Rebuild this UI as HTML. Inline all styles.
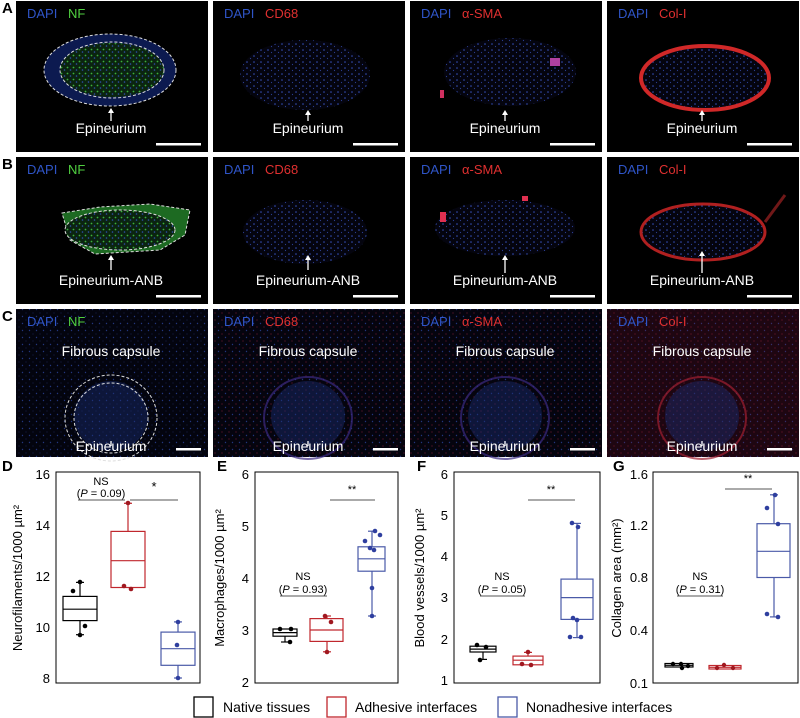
<!DOCTYPE html>
<html><head><meta charset="utf-8"><style>
html,body{margin:0;padding:0;background:#fff;width:800px;height:718px;overflow:hidden}
svg{display:block}
text{font-family:"Liberation Sans",Arial,sans-serif}
</style></head><body>
<svg width="800" height="718" viewBox="0 0 800 718" xmlns="http://www.w3.org/2000/svg">
<defs>
<pattern id="dots" width="7" height="6" patternUnits="userSpaceOnUse">
<rect width="7" height="6" fill="#04040e"/>
<circle cx="2" cy="2" r="0.8" fill="#3550b8"/><circle cx="5.5" cy="4.5" r="0.6" fill="#2a3d90"/>
</pattern>
<pattern id="dotsC" width="7" height="7" patternUnits="userSpaceOnUse">
<rect width="7" height="7" fill="#03040e"/>
<circle cx="1.5" cy="1.5" r="0.7" fill="#22367e"/><circle cx="5" cy="5" r="0.5" fill="#1a2a66"/>
</pattern>
<pattern id="dotsR" width="7" height="7" patternUnits="userSpaceOnUse">
<rect width="7" height="7" fill="#05040e"/>
<circle cx="1.5" cy="1.5" r="0.7" fill="#22367e"/><circle cx="5" cy="5" r="0.6" fill="#6a1830"/>
</pattern>
<pattern id="dotsG" width="6" height="6" patternUnits="userSpaceOnUse">
<rect width="6" height="6" fill="#0b2410"/>
<circle cx="1.5" cy="1.5" r="0.9" fill="#3bb03b"/><circle cx="4.5" cy="4" r="0.8" fill="#2f4fb0"/>
</pattern>
</defs>

<g font-weight="bold" font-size="15" fill="#000">
<text x="2" y="13">A</text><text x="2" y="169">B</text><text x="2" y="321">C</text>
<text x="2" y="471">D</text><text x="217" y="471">E</text><text x="417" y="471">F</text><text x="613" y="471">G</text>
</g>

<!-- ROW A -->
<rect x="16" y="1" width="192" height="151" fill="#000"/>
<rect x="213" y="1" width="192" height="151" fill="#000"/>
<rect x="410" y="1" width="192" height="151" fill="#000"/>
<rect x="607" y="1" width="192" height="151" fill="#000"/>
<ellipse cx="110" cy="70" rx="66" ry="36" fill="#0c1a50"/>
<ellipse cx="112" cy="70" rx="52" ry="27" fill="url(#dotsG)"/>
<ellipse cx="110" cy="70" rx="66" ry="36" fill="none" stroke="#ddd" stroke-dasharray="3,2" stroke-width="1"/>
<ellipse cx="112" cy="70" rx="52" ry="28" fill="none" stroke="#ddd" stroke-dasharray="3,2" stroke-width="1"/>
<ellipse cx="305" cy="75" rx="65" ry="35" fill="url(#dots)"/>
<ellipse cx="510" cy="72" rx="66" ry="34" fill="url(#dots)"/>
<rect x="550" y="58" width="10" height="8" fill="#b040a0"/><rect x="440" y="90" width="4" height="8" fill="#d03060"/>
<ellipse cx="705" cy="78" rx="64" ry="32" fill="url(#dots)" stroke="#d02828" stroke-width="4"/>

<!-- ROW B -->
<rect x="16" y="157" width="192" height="147" fill="#000"/>
<rect x="213" y="157" width="192" height="147" fill="#000"/>
<rect x="410" y="157" width="192" height="147" fill="#000"/>
<rect x="607" y="157" width="192" height="147" fill="#000"/>
<path d="M62,213 L100,207 L150,204 L190,210 L185,235 L160,250 L95,254 L70,240 Z" fill="#1d6a22" stroke="#ddd" stroke-dasharray="3,2"/>
<ellipse cx="120" cy="230" rx="55" ry="20" fill="url(#dotsG)" stroke="#ddd" stroke-dasharray="3,2"/>
<ellipse cx="305" cy="232" rx="62" ry="32" fill="url(#dots)"/>
<ellipse cx="505" cy="228" rx="70" ry="28" fill="url(#dots)"/>
<rect x="440" y="212" width="6" height="10" fill="#e03050"/><rect x="522" y="196" width="6" height="5" fill="#e03050"/>
<ellipse cx="703" cy="232" rx="62" ry="28" fill="url(#dots)" stroke="#b02020" stroke-width="3"/>
<path d="M765,222 L785,195" stroke="#701818" stroke-width="3"/>

<!-- ROW C -->
<rect x="16" y="309" width="192" height="148" fill="url(#dotsC)"/>
<rect x="213" y="309" width="192" height="148" fill="url(#dotsR)"/>
<rect x="410" y="309" width="192" height="148" fill="url(#dotsR)"/>
<rect x="607" y="309" width="192" height="148" fill="url(#dotsR)"/>
<rect x="607" y="309" width="192" height="148" fill="#801020" opacity="0.2"/>
<g fill="#1a2c70" opacity="0.45">
<ellipse cx="111" cy="416" rx="37" ry="35"/><ellipse cx="308" cy="416" rx="37" ry="35"/><ellipse cx="505" cy="416" rx="37" ry="35"/><ellipse cx="702" cy="416" rx="37" ry="35"/>
</g>
<g fill="none" stroke="#3a2a80" stroke-width="2" opacity="0.7">
<ellipse cx="308" cy="418" rx="44" ry="41"/><ellipse cx="505" cy="418" rx="44" ry="41"/><ellipse cx="702" cy="418" rx="44" ry="41" stroke="#a02030"/>
</g>
<ellipse cx="111" cy="418" rx="46" ry="43" fill="none" stroke="#ddd" stroke-dasharray="3,2"/>
<ellipse cx="111" cy="418" rx="37" ry="35" fill="none" stroke="#ddd" stroke-dasharray="3,2"/>

<!-- channel labels -->
<g fill="#2f55c8" font-size="13"><text x="27" y="18">DAPI</text><text x="224" y="18">DAPI</text><text x="421" y="18">DAPI</text><text x="618" y="18">DAPI</text>
<text x="27" y="174">DAPI</text><text x="224" y="174">DAPI</text><text x="421" y="174">DAPI</text><text x="618" y="174">DAPI</text>
<text x="27" y="326">DAPI</text><text x="224" y="326">DAPI</text><text x="421" y="326">DAPI</text><text x="618" y="326">DAPI</text></g>
<g font-size="13"><text x="68" y="18" fill="#50d040">NF</text><text x="265" y="18" fill="#e03030">CD68</text><text x="462" y="18" fill="#e03030">α-SMA</text><text x="659" y="18" fill="#e03030">Col-I</text>
<text x="68" y="174" fill="#50d040">NF</text><text x="265" y="174" fill="#e03030">CD68</text><text x="462" y="174" fill="#e03030">α-SMA</text><text x="659" y="174" fill="#e03030">Col-I</text>
<text x="68" y="326" fill="#50d040">NF</text><text x="265" y="326" fill="#e03030">CD68</text><text x="462" y="326" fill="#e03030">α-SMA</text><text x="659" y="326" fill="#e03030">Col-I</text></g>
<g fill="#fff" font-size="14" text-anchor="middle">
<text x="111" y="356">Fibrous capsule</text><text x="308" y="356">Fibrous capsule</text><text x="505" y="356">Fibrous capsule</text><text x="702" y="356">Fibrous capsule</text>
<text x="111" y="133">Epineurium</text><text x="308" y="133">Epineurium</text><text x="505" y="133">Epineurium</text><text x="702" y="133">Epineurium</text>
<text x="111" y="285">Epineurium-ANB</text><text x="308" y="285">Epineurium-ANB</text><text x="505" y="285">Epineurium-ANB</text><text x="702" y="285">Epineurium-ANB</text>
<text x="111" y="451">Epineurium</text><text x="308" y="451">Epineurium</text><text x="505" y="451">Epineurium</text><text x="702" y="451">Epineurium</text>
</g>
<g stroke="#fff" stroke-width="1.3" fill="#fff">
<line x1="111" y1="112" x2="111" y2="121"/><line x1="308" y1="114" x2="308" y2="121"/><line x1="505" y1="114" x2="505" y2="121"/><line x1="702" y1="114" x2="702" y2="121"/>
<line x1="111" y1="259" x2="111" y2="270"/><line x1="308" y1="259" x2="308" y2="270"/><line x1="505" y1="259" x2="505" y2="273"/><line x1="702" y1="255" x2="702" y2="273"/>
<line x1="111" y1="441" x2="111" y2="446"/><line x1="308" y1="441" x2="308" y2="446"/><line x1="505" y1="441" x2="505" y2="446"/><line x1="702" y1="441" x2="702" y2="446"/>
</g>
<g fill="#fff">
<path d="M108,113 L111,108 L114,113Z"/><path d="M305,115 L308,110 L311,115Z"/><path d="M502,115 L505,110 L508,115Z"/><path d="M699,115 L702,110 L705,115Z"/>
<path d="M108,260 L111,255 L114,260Z"/><path d="M305,260 L308,255 L311,260Z"/><path d="M502,260 L505,255 L508,260Z"/><path d="M699,256 L702,251 L705,256Z"/>
<rect x="156" y="143" width="45" height="2.5"/><rect x="353" y="143" width="45" height="2.5"/><rect x="550" y="143" width="45" height="2.5"/><rect x="747" y="143" width="45" height="2.5"/>
<rect x="156" y="295" width="45" height="2.5"/><rect x="353" y="295" width="45" height="2.5"/><rect x="550" y="295" width="45" height="2.5"/><rect x="747" y="295" width="45" height="2.5"/>
<rect x="176" y="448" width="25" height="2.5"/><rect x="373" y="448" width="25" height="2.5"/><rect x="570" y="448" width="25" height="2.5"/><rect x="767" y="448" width="25" height="2.5"/>
</g>

<!-- ===== CHARTS ===== -->
<g font-size="13" fill="#000">
<rect x="56" y="472" width="144" height="211" fill="none" stroke="#000"/>
<g text-anchor="end"><text x="50" y="479">16</text><text x="50" y="530">14</text><text x="50" y="581">12</text><text x="50" y="632">10</text><text x="50" y="683">8</text></g>
<text transform="translate(22,578) rotate(-90)" text-anchor="middle">Neurofilaments/1000 µm²</text>
<rect x="255" y="472" width="143" height="211" fill="none" stroke="#000"/>
<g text-anchor="end"><text x="249" y="479">6</text><text x="249" y="531">5</text><text x="249" y="583">4</text><text x="249" y="635">3</text><text x="249" y="687">2</text></g>
<text transform="translate(224,578) rotate(-90)" text-anchor="middle">Macrophages/1000 µm²</text>
<rect x="454" y="472" width="146" height="211" fill="none" stroke="#000"/>
<g text-anchor="end"><text x="448" y="479">6</text><text x="448" y="520">5</text><text x="448" y="561">4</text><text x="448" y="602">3</text><text x="448" y="644">2</text><text x="448" y="685">1</text></g>
<text transform="translate(424,578) rotate(-90)" text-anchor="middle">Blood vessels/1000 µm²</text>
<rect x="653" y="472" width="145" height="211" fill="none" stroke="#000"/>
<g text-anchor="end"><text x="648" y="479">1.6</text><text x="648" y="530">1.2</text><text x="648" y="582">0.8</text><text x="648" y="635">0.4</text><text x="648" y="688">0.1</text></g>
<text transform="translate(621,578) rotate(-90)" text-anchor="middle">Collagen area (mm²)</text>
</g>

<!-- D -->
<g fill="none" stroke-width="1.2">
<g stroke="#000"><rect x="63" y="596.4" width="34" height="24.2"/><line x1="63" y1="609.2" x2="97" y2="609.2"/><line x1="80" y1="582.4" x2="80" y2="596.4"/><line x1="80" y1="620.6" x2="80" y2="634.7"/><line x1="76" y1="582.4" x2="84" y2="582.4"/><line x1="76" y1="634.7" x2="84" y2="634.7"/></g>
<g stroke="#c0272d"><rect x="111" y="531.4" width="34" height="56.1"/><line x1="111" y1="560.7" x2="145" y2="560.7"/><line x1="128" y1="503.3" x2="128" y2="531.4"/><line x1="124" y1="503.3" x2="132" y2="503.3"/></g>
<g stroke="#4a5aa8"><rect x="161" y="632.1" width="34" height="33.2"/><line x1="161" y1="648.7" x2="195" y2="648.7"/><line x1="178" y1="621.9" x2="178" y2="632.1"/><line x1="178" y1="665.3" x2="178" y2="678"/><line x1="174" y1="621.9" x2="182" y2="621.9"/><line x1="174" y1="678" x2="182" y2="678"/></g>
</g>
<g fill="#000"><circle cx="80" cy="582" r="2.3"/><circle cx="73" cy="591" r="2.3"/><circle cx="85" cy="626" r="2.3"/><circle cx="80" cy="635" r="2.3"/></g>
<g fill="#a01820"><circle cx="128" cy="503" r="2.3"/><circle cx="124" cy="586" r="2.3"/><circle cx="131" cy="589" r="2.3"/></g>
<g fill="#2f3f9f"><circle cx="178" cy="622" r="2.3"/><circle cx="177" cy="645" r="2.3"/><circle cx="178" cy="678" r="2.3"/></g>
<g stroke="#555"><line x1="78" y1="500" x2="125" y2="500"/><line x1="130" y1="500" x2="178" y2="500"/></g>
<g font-size="11" text-anchor="middle"><text x="101" y="485">NS</text><text x="101" y="497">(<tspan font-style="italic">P</tspan> = 0.09)</text><text x="154" y="491" font-size="13">*</text></g>

<!-- E -->
<g fill="none" stroke-width="1.2">
<g stroke="#000"><rect x="273" y="629" width="24" height="7.2"/><line x1="273" y1="632.6" x2="297" y2="632.6"/><line x1="285" y1="636.2" x2="285" y2="642"/><line x1="281" y1="642" x2="289" y2="642"/></g>
<g stroke="#c0272d"><rect x="310" y="618.6" width="33" height="22.8"/><line x1="310" y1="630" x2="343" y2="630"/><line x1="327" y1="616" x2="327" y2="618.6"/><line x1="327" y1="641.4" x2="327" y2="651.8"/><line x1="323" y1="616" x2="331" y2="616"/><line x1="323" y1="651.8" x2="331" y2="651.8"/></g>
<g stroke="#4a5aa8"><rect x="358" y="546.8" width="27" height="24.4"/><line x1="358" y1="558.8" x2="385" y2="558.8"/><line x1="372" y1="531.2" x2="372" y2="546.8"/><line x1="372" y1="571.2" x2="372" y2="616"/><line x1="368" y1="531.2" x2="376" y2="531.2"/><line x1="368" y1="616" x2="376" y2="616"/></g>
</g>
<g fill="#000"><circle cx="280" cy="629" r="2.3"/><circle cx="291" cy="629" r="2.3"/><circle cx="290" cy="642" r="2.3"/></g>
<g fill="#a01820"><circle cx="325" cy="616" r="2.3"/><circle cx="331" cy="622" r="2.3"/><circle cx="327" cy="652" r="2.3"/></g>
<g fill="#2f3f9f"><circle cx="375" cy="531" r="2.3"/><circle cx="380" cy="535" r="2.3"/><circle cx="365" cy="541" r="2.3"/><circle cx="370" cy="548" r="2.3"/><circle cx="374" cy="550" r="2.3"/><circle cx="372" cy="588" r="2.3"/><circle cx="372" cy="616" r="2.3"/></g>
<g stroke="#555"><line x1="280" y1="596" x2="327" y2="596"/><line x1="330" y1="500" x2="375" y2="500"/></g>
<g font-size="11" text-anchor="middle"><text x="303" y="580">NS</text><text x="303" y="593">(<tspan font-style="italic">P</tspan> = 0.93)</text><text x="352" y="493">**</text></g>

<!-- F -->
<g fill="none" stroke-width="1.2">
<g stroke="#000"><rect x="470" y="646.2" width="26" height="5.8"/><line x1="470" y1="649.1" x2="496" y2="649.1"/><line x1="483" y1="652" x2="483" y2="659.4"/><line x1="479" y1="659.4" x2="487" y2="659.4"/></g>
<g stroke="#c0272d"><rect x="513" y="656.1" width="30" height="8.7"/><line x1="513" y1="660.2" x2="543" y2="660.2"/><line x1="528" y1="652.4" x2="528" y2="656.1"/><line x1="524" y1="652.4" x2="532" y2="652.4"/></g>
<g stroke="#4a5aa8"><rect x="561" y="579.1" width="32" height="40.3"/><line x1="561" y1="597.6" x2="593" y2="597.6"/><line x1="577" y1="523.4" x2="577" y2="579.1"/><line x1="577" y1="619.4" x2="577" y2="637.6"/><line x1="573" y1="523.4" x2="581" y2="523.4"/><line x1="573" y1="637.6" x2="581" y2="637.6"/></g>
</g>
<g fill="#000"><circle cx="477" cy="645" r="2.3"/><circle cx="486" cy="647" r="2.3"/><circle cx="480" cy="660" r="2.3"/></g>
<g fill="#a01820"><circle cx="528" cy="652" r="2.3"/><circle cx="522" cy="664" r="2.3"/><circle cx="531" cy="665" r="2.3"/></g>
<g fill="#2f3f9f"><circle cx="572" cy="523" r="2.3"/><circle cx="578" cy="527" r="2.3"/><circle cx="573" cy="618" r="2.3"/><circle cx="577" cy="620" r="2.3"/><circle cx="570" cy="637" r="2.3"/><circle cx="581" cy="637" r="2.3"/></g>
<g stroke="#555"><line x1="480" y1="596" x2="525" y2="596"/><line x1="528" y1="500" x2="575" y2="500"/></g>
<g font-size="11" text-anchor="middle"><text x="502" y="580">NS</text><text x="502" y="593">(<tspan font-style="italic">P</tspan> = 0.05)</text><text x="551" y="493">**</text></g>

<!-- G -->
<g fill="none" stroke-width="1.2">
<g stroke="#000"><rect x="665" y="663.5" width="28" height="3.5"/><line x1="665" y1="665.3" x2="693" y2="665.3"/></g>
<g stroke="#c0272d"><rect x="709" y="665.5" width="32" height="3.5"/><line x1="709" y1="667.3" x2="741" y2="667.3"/></g>
<g stroke="#4a5aa8"><rect x="757" y="523.7" width="33" height="53.8"/><line x1="757" y1="551.3" x2="790" y2="551.3"/><line x1="774" y1="494.8" x2="774" y2="523.7"/><line x1="774" y1="577.5" x2="774" y2="616.9"/><line x1="770" y1="494.8" x2="778" y2="494.8"/><line x1="770" y1="616.9" x2="778" y2="616.9"/></g>
</g>
<g fill="#000"><circle cx="673" cy="664" r="2.2"/><circle cx="681" cy="664" r="2.2"/><circle cx="688" cy="666" r="2.2"/><circle cx="682" cy="668" r="2.2"/></g>
<g fill="#a01820"><circle cx="724" cy="665" r="2.2"/><circle cx="717" cy="668" r="2.2"/><circle cx="733" cy="668" r="2.2"/></g>
<g fill="#2f3f9f"><circle cx="775" cy="495" r="2.3"/><circle cx="767" cy="508" r="2.3"/><circle cx="778" cy="524" r="2.3"/><circle cx="767" cy="614" r="2.3"/><circle cx="778" cy="617" r="2.3"/></g>
<g stroke="#555"><line x1="677" y1="596" x2="723" y2="596"/><line x1="725" y1="489" x2="772" y2="489"/></g>
<g font-size="11" text-anchor="middle"><text x="700" y="580">NS</text><text x="700" y="593">(<tspan font-style="italic">P</tspan> = 0.31)</text><text x="748" y="482">**</text></g>

<!-- legend -->
<g fill="none" stroke-width="1.3">
<rect x="194" y="697" width="19" height="20" stroke="#000"/>
<rect x="327" y="697" width="19" height="20" stroke="#c0272d"/>
<rect x="498" y="697" width="19" height="20" stroke="#4a5aa8"/>
</g>
<g font-size="14" fill="#000"><text x="223" y="712">Native tissues</text><text x="355" y="712">Adhesive interfaces</text><text x="526" y="712">Nonadhesive interfaces</text></g>
</svg>
</body></html>
